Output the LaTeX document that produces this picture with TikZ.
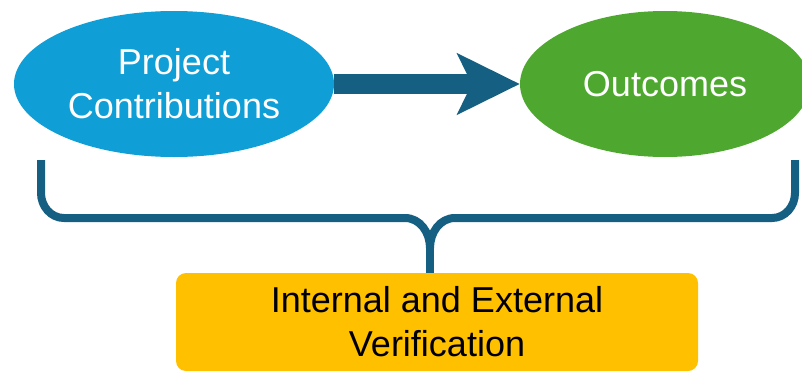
\documentclass[tikz,border=0pt]{standalone}
\usepackage{fontspec}
\setmainfont{Liberation Sans}
\usepackage{tikz}
\usetikzlibrary{shapes.geometric,arrows.meta,positioning,calc}
\definecolor{accblue}{HTML}{0F9ED5}
\definecolor{accgreen}{HTML}{4EA72E}
\definecolor{accteal}{HTML}{156082}
\definecolor{accgold}{HTML}{FFC000}
\begin{document}
\begin{tikzpicture}[x=1pt, y=1pt,
    bubble/.style={ellipse, inner sep=0pt, minimum height=146pt, text=white, align=center,
        font=\fontsize{36}{44}\selectfont},
    flow/.style={draw=accteal, line width=20pt, -{Stealth[length=62pt, width=60pt, inset=14pt]}},
    brace/.style={draw=accteal, line width=8pt},
    checkbox/.style={rectangle, rounded corners=10pt, fill=accgold, minimum width=522pt,
        minimum height=98pt, align=center, font=\fontsize{36}{44}\selectfont}]
    \useasboundingbox (0,0) rectangle (802,373);

    \node[bubble, fill=accblue, minimum width=320pt] (pc) at (174,289) {Project\\Contributions};
    \node[bubble, fill=accgreen, minimum width=290pt] (out) at (665,289) {Outcomes};
    \node[checkbox] (ver) at (437,51) {Internal and External\\Verification};

    \draw[flow] (pc) -- (out);

    % brace
    \coordinate (bl) at (41,213);
    \coordinate (br) at (795,213);
    \coordinate (tip) at (430,125);
    \draw[brace] (bl) -- (41,180) to[out=-90,in=180] (64,155) -- (405,155)
        to[out=0,in=90] (tip) to[out=90,in=180] (455,155) -- (772,155)
        to[out=0,in=-90] (795,180) -- (br);
    \draw[brace] (tip) -- (tip |- ver.north);
\end{tikzpicture}
\end{document}
